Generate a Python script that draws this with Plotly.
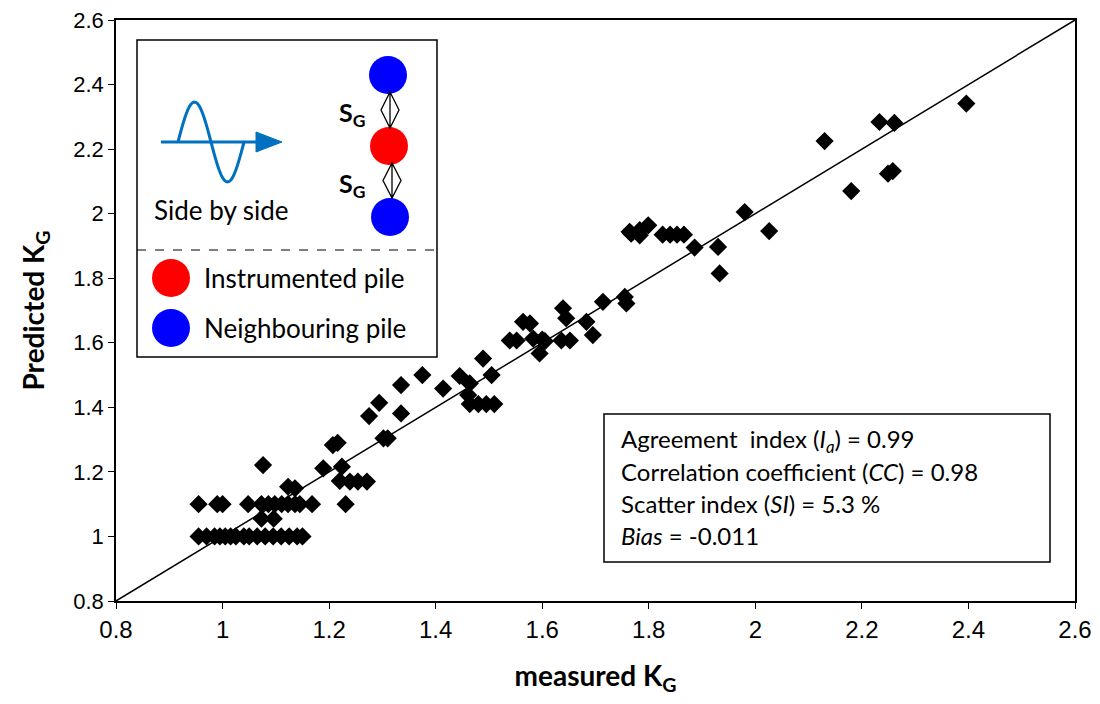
import math
import plotly.graph_objects as go

# ---- data ----
measured = [
    # row at predicted = 1.0
    0.955, 0.97, 0.985, 0.995, 1.005, 1.015, 1.025, 1.04, 1.05, 1.065, 1.08, 1.095, 1.11, 1.125, 1.14, 1.15,
    # row at predicted = 1.1
    0.955, 0.99, 1.0, 1.048, 1.073, 1.086, 1.098, 1.111, 1.123, 1.136, 1.145, 1.168, 1.231,
    1.073, 1.096,
    1.076,
    1.123, 1.136,
    1.189, 1.224,
    1.207, 1.216,
    1.22, 1.239, 1.254, 1.271,
    1.275, 1.294, 1.335, 1.335,
    1.302, 1.31,
    1.375,
    1.414, 1.445, 1.464, 1.489, 1.505,
    1.461,
    1.464, 1.48, 1.495, 1.51,
    1.539, 1.552,
    1.564, 1.577,
    1.583, 1.6, 1.605,
    1.595,
    1.639, 1.645,
    1.636, 1.652,
    1.683, 1.695,
    1.714,
    1.755, 1.758,
    1.764, 1.783, 1.799, 1.783, 1.767,
    1.826, 1.84, 1.853, 1.866,
    1.886,
    1.93, 1.933,
    1.98,
    2.026,
    2.13,
    2.18,
    2.233, 2.261,
    2.249, 2.258,
    2.396,
]
predicted = [
    1.0, 1.0, 1.0, 1.0, 1.0, 1.0, 1.0, 1.0, 1.0, 1.0, 1.0, 1.0, 1.0, 1.0, 1.0, 1.0,
    1.1, 1.1, 1.1, 1.1, 1.1, 1.1, 1.1, 1.1, 1.1, 1.1, 1.1, 1.1, 1.1,
    1.055, 1.055,
    1.221,
    1.154, 1.149,
    1.211, 1.216,
    1.283, 1.29,
    1.172, 1.17, 1.17, 1.17,
    1.373, 1.414, 1.381, 1.469,
    1.304, 1.304,
    1.5,
    1.458, 1.497, 1.474, 1.551, 1.5,
    1.438,
    1.41, 1.41, 1.41, 1.41,
    1.607, 1.607,
    1.665, 1.66,
    1.613, 1.61, 1.605,
    1.567,
    1.707, 1.676,
    1.607, 1.607,
    1.665, 1.624,
    1.727,
    1.742, 1.722,
    1.944, 1.949, 1.964, 1.933, 1.938,
    1.935, 1.935, 1.935, 1.935,
    1.895,
    1.897, 1.815,
    2.005,
    1.946,
    2.225,
    2.07,
    2.284, 2.281,
    2.124, 2.132,
    2.341,
]
line_x = [0.8, 2.6]
line_y = [0.8, 2.6]

stats_lines = [
    "Agreement  index (<i>I<sub>a</sub></i>) = 0.99",
    "Correlation coefficient (<i>CC</i>) = 0.98",
    "Scatter index (<i>SI</i>) = 5.3 %",
    "<i>Bias</i> = -0.011",
]
tick_vals = [0.8, 1.0, 1.2, 1.4, 1.6, 1.8, 2.0, 2.2, 2.4, 2.6]
tick_text = ["0.8", "1", "1.2", "1.4", "1.6", "1.8", "2", "2.2", "2.4", "2.6"]

# ---- layout geometry (pixels); page body adds an 8px offset ----
L, R, T, B = 108, 25, 12, 103
PW, PH = 959, 581
W, H = L + PW + R, T + PH + B
WIN_L, WIN_T = 116, 20  # plot-area corner in window pixels


def px(x):
    return (x - WIN_L) / PW


def py(y):
    return (WIN_T + PH - y) / PH


TEXT_FONT = "Lato, Open Sans, sans-serif"
TICK_FONT = "Liberation Sans, Arial, sans-serif"

fig = go.Figure()
fig.add_trace(go.Scatter(x=line_x, y=line_y, mode="lines",
                         line=dict(color="black", width=1.5), hoverinfo="skip"))
fig.add_trace(go.Scatter(x=measured, y=predicted, mode="markers",
                         marker=dict(symbol="diamond", size=14, color="black",
                                     line=dict(width=0))))

shapes = []
annotations = []

# inset legend box
shapes.append(dict(type="rect", xref="paper", yref="paper",
                   x0=px(137), x1=px(437), y0=py(357), y1=py(40),
                   line=dict(color="black", width=1.5), fillcolor="white", layer="above"))
shapes.append(dict(type="line", xref="paper", yref="paper",
                   x0=px(137), x1=px(437), y0=py(250), y1=py(250),
                   line=dict(color="black", width=1.2, dash="dash"), layer="above"))

# wave icon
blue_w = "#0070C0"
shapes.append(dict(type="line", xref="paper", yref="paper",
                   x0=px(161), x1=px(262), y0=py(142), y1=py(142),
                   line=dict(color=blue_w, width=3), layer="above"))
shapes.append(dict(type="path", xref="paper", yref="paper",
                   path=f"M {px(256)},{py(132)} L {px(282)},{py(142)} L {px(256)},{py(152)} Z",
                   fillcolor=blue_w, line=dict(color=blue_w, width=1), layer="above"))
pts = []
for i in range(41):
    t = i / 40
    xx = 178 + t * 66
    yy = 142 - 40 * math.sin(2 * math.pi * t)
    pts.append(f"{px(xx)},{py(yy)}")
shapes.append(dict(type="path", xref="paper", yref="paper",
                   path="M " + " L ".join(pts),
                   line=dict(color=blue_w, width=3), layer="above"))


def circle(cx, cy, r, color):
    return dict(type="circle", xref="paper", yref="paper",
                x0=px(cx - r), x1=px(cx + r), y0=py(cy + r), y1=py(cy - r),
                fillcolor=color, line=dict(color=color, width=0), layer="above")


shapes.append(circle(388, 75, 19, "#0000FF"))
shapes.append(circle(389, 146, 19, "#FF0000"))
shapes.append(circle(390, 217, 19, "#0000FF"))
shapes.append(circle(171, 278, 19, "#FF0000"))
shapes.append(circle(171, 328, 19, "#0000FF"))


def dbl_arrow(cx, ytop, ybot, hw):
    ym = (ytop + ybot) / 2
    return dict(type="path", xref="paper", yref="paper",
                path=(f"M {px(cx)},{py(ytop)} L {px(cx + hw)},{py(ym)} L {px(cx)},{py(ybot)} "
                      f"L {px(cx - hw)},{py(ym)} Z M {px(cx)},{py(ytop)} L {px(cx)},{py(ybot)}"),
                line=dict(color="black", width=1.3), layer="above")


shapes.append(dbl_arrow(390, 92, 128, 9))
shapes.append(dbl_arrow(392, 163, 198, 9))

annotations.append(dict(xref="paper", yref="paper", x=px(152), y=py(210),
                        xanchor="left", yanchor="middle", showarrow=False,
                        text="Side by side", font=dict(family=TEXT_FONT, size=26, color="black")))
for yy in (114, 185):
    annotations.append(dict(xref="paper", yref="paper", x=px(337), y=py(yy),
                            xanchor="left", yanchor="middle", showarrow=False,
                            text="<b>S<sub>G</sub></b>",
                            font=dict(family=TEXT_FONT, size=25, color="black")))
annotations.append(dict(xref="paper", yref="paper", x=px(202), y=py(278),
                        xanchor="left", yanchor="middle", showarrow=False,
                        text="Instrumented pile", font=dict(family=TEXT_FONT, size=26, color="black")))
annotations.append(dict(xref="paper", yref="paper", x=px(202), y=py(328),
                        xanchor="left", yanchor="middle", showarrow=False,
                        text="Neighbouring pile", font=dict(family=TEXT_FONT, size=26, color="black")))

# stats box
shapes.append(dict(type="rect", xref="paper", yref="paper",
                   x0=px(604), x1=px(1050), y0=py(562), y1=py(414),
                   line=dict(color="black", width=1.5), fillcolor="white", layer="above"))
for i, s in enumerate(stats_lines):
    annotations.append(dict(xref="paper", yref="paper", x=px(619), y=py(440 + 31.7 * i),
                            xanchor="left", yanchor="middle", showarrow=False,
                            text=s, font=dict(family=TEXT_FONT, size=24, color="black")))

axis_common = dict(range=[0.8, 2.6], tickvals=tick_vals, ticktext=tick_text,
                   showgrid=False, zeroline=False, showline=True, linecolor="black",
                   linewidth=1.5, mirror=True, ticks="outside", ticklen=6, tickwidth=1.2,
                   tickcolor="black", ticklabeloverflow="allow", automargin=False)

fig.update_layout(
    width=W, height=H, autosize=False,
    margin=dict(l=L, r=R, t=T, b=B),
    paper_bgcolor="white", plot_bgcolor="white",
    showlegend=False,
    xaxis=dict(**axis_common,
               tickfont=dict(family=TICK_FONT, size=24, color="black"),
               title=dict(text="<b>measured K<sub>G</sub></b>", standoff=25,
                          font=dict(family=TEXT_FONT, size=28, color="black"))),
    yaxis=dict(**axis_common,
               tickfont=dict(family=TICK_FONT, size=22, color="black"),
               title=dict(text="<b>Predicted K<sub>G</sub></b>", standoff=20,
                          font=dict(family=TEXT_FONT, size=28, color="black"))),
    shapes=shapes,
    annotations=annotations,
)

fig.write_html("out.html")
